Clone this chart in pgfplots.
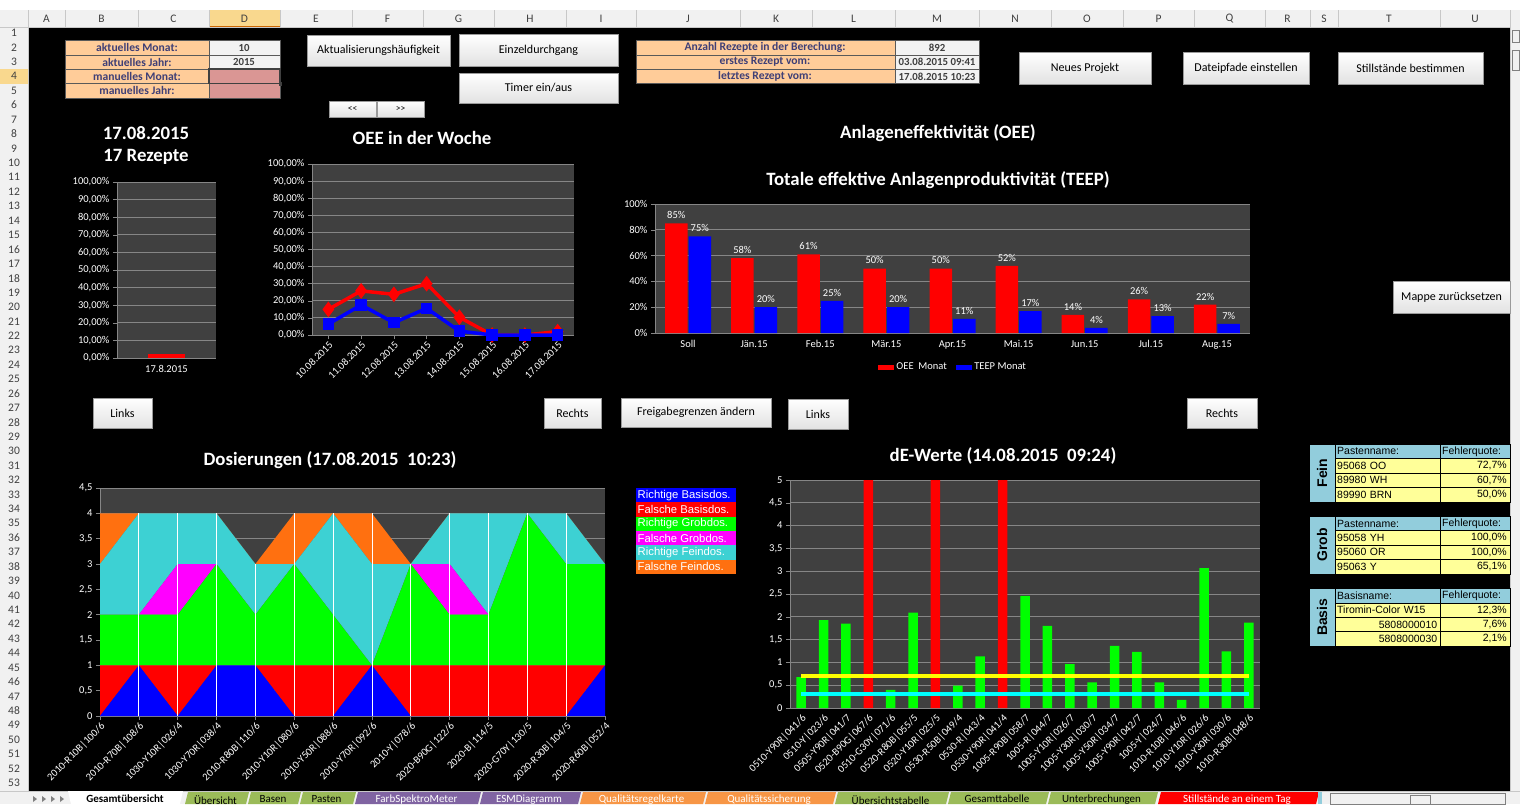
\documentclass[border=0pt]{standalone}
\usepackage{fontspec}
\setmainfont{Carlito}
\newfontfamily\arialf{Liberation Sans}
\usepackage{pgfplots}
\pgfplotsset{compat=1.18}

\definecolor{plotbg}{HTML}{404040}
\definecolor{gridc}{HTML}{868686}
\definecolor{inpfill}{HTML}{FFCC99}
\definecolor{inptext}{HTML}{3F3F76}
\definecolor{outfill}{HTML}{F2F2F2}
\definecolor{outtext}{HTML}{3F3F3F}
\definecolor{pinkc}{HTML}{DA9694}
\definecolor{btnbot}{HTML}{E2E2E2}
\definecolor{btnborder}{HTML}{9A9A9A}
\definecolor{hdrfill}{HTML}{F1F1F1}
\definecolor{hdrline}{HTML}{C8C8C8}
\definecolor{hdrtext}{HTML}{404040}
\definecolor{hdrsel}{HTML}{F9D88E}
\definecolor{xred}{HTML}{FF0000}
\definecolor{xblue}{HTML}{0000FF}
\definecolor{xgreen}{HTML}{00FF00}
\definecolor{xmag}{HTML}{FF00FF}
\definecolor{xcyan}{HTML}{3DD1D3}
\definecolor{xorange}{HTML}{FF7010}
\definecolor{xyellow}{HTML}{FFFF00}
\definecolor{xlcyan}{HTML}{00FFFF}
\definecolor{tblue}{HTML}{92CDDC}
\definecolor{tyellow}{HTML}{FFFF99}
\definecolor{tabgreen}{HTML}{9BBB59}
\definecolor{tabpurple}{HTML}{8064A2}
\definecolor{taborange}{HTML}{F79646}

\newcommand{\tf}{\fontsize{10.5}{12}\selectfont}
\newcommand{\hdrf}{\fontsize{11.5}{13}\selectfont}
\newcommand{\titf}{\bfseries\fontsize{18.8}{22}\selectfont}
\newcommand{\cellf}{\bfseries\fontsize{11.6}{13}\selectfont}
\newcommand{\valf}{\bfseries\fontsize{10.8}{12}\selectfont}
\newcommand{\tabf}{\arialf\fontsize{10.5}{12}\selectfont}
\newcommand{\btnf}{\fontsize{12}{14}\selectfont}

\newcommand{\btn}[6][]{%
  \draw[btnborder, top color=white, bottom color=btnbot] (#2,#3) rectangle (#4,#5);
  \node[font=\btnf, text=black, #1] at ({(#2+#4)/2},{(#3+#5)/2}) {#6};}

\newcommand{\rtab}[9]{%
\begin{scope}[shift={(0,#1)}]
 \fill[tblue] (1309,0) rectangle (1335,57.7);
 \fill[tblue] (1335,0) rectangle (1510,14.42);
 \fill[tyellow] (1335,14.42) rectangle (1510,57.7);
 \draw[black, line width=0.5pt] (1309,0) rectangle (1510,57.7) (1335,0) -- (1335,57.7) (1440,0) -- (1440,57.7) (1335,14.42) -- (1510,14.42) (1335,28.84) -- (1510,28.84) (1335,43.26) -- (1510,43.26);
 \node[rotate=90, font=\arialf\bfseries\fontsize{14}{16}\selectfont] at (1322,28.85) {#2};
 \node[anchor=west, font=\tabf, inner sep=1pt] at (1336,7.21) {#3};
 \node[anchor=west, font=\tabf, inner sep=1pt] at (1441,7.21) {Fehlerquote:};
 \node[anchor=west, font=\tabf, inner sep=1pt, text width=100pt, align=left] at (1336,21.63) {#4};
 \node[anchor=east, font=\tabf, inner sep=1pt] at (1508,21.63) {#5};
 \node[anchor=west, font=\tabf, inner sep=1pt, text width=100pt, align=left] at (1336,36.05) {#6};
 \node[anchor=east, font=\tabf, inner sep=1pt] at (1508,36.05) {#7};
 \node[anchor=west, font=\tabf, inner sep=1pt, text width=100pt, align=left] at (1336,50.47) {#8};
 \node[anchor=east, font=\tabf, inner sep=1pt] at (1508,50.47) {#9};
\end{scope}}

\pgfplotsset{
  xl/.style={
    scale only axis,
    axis background/.style={fill=plotbg},
    axis lines*=left,
    axis line style={-, draw=gridc, line width=0.8pt},
    ymajorgrids,
    major grid style={draw=gridc, line width=0.9pt},
    tick style={draw=gridc, line width=0.6pt},
    tick align=outside,
    major tick length=4pt,
    ticklabel style={font=\tf, text=white},
    /pgf/number format/assume math mode=true,
    /pgf/number format/use comma,
    /pgf/number format/1000 sep={},
  }
}

\begin{document}
\begin{tikzpicture}[x=1pt, y=-1pt]
\useasboundingbox (0,0) rectangle (1520,804);
% sheet frame
\fill[white] (0,0) rectangle (1520,10);
\fill[hdrfill] (0,10) rectangle (1520,27);
\fill[hdrfill] (0,27) rectangle (28,791);
\fill[black] (28,27) rectangle (1510,791);
\fill[hdrsel] (209,10) rectangle (280,27);
\draw[orange!80!black, line width=1pt] (209,26.5) -- (280,26.5);
\fill[hdrsel] (0,69.26) rectangle (28,83.68);
\draw[hdrline] (0,27) -- (1510,27) (28,10) -- (28,791);
\foreach \a/\b/\l in {28/65/A,65/138/B,138/209/C,209/280/D,280/352/E,352/423/F,423/494/G,494/566/H,566/636/I,636/740/J,740/812/K,812/895/L,895/979/M,979/1051/N,1051/1123/O,1123/1194/P,1194/1265/Q,1265/1310/R,1310/1338/S,1338/1440/T,1440/1510/U}
{ \draw[hdrline] (\b,10) -- (\b,27); \node[font=\hdrf, text=hdrtext] at ({(\a+\b)/2},18.5) {\l}; }
\foreach \r in {1,...,54} { \node[font=\hdrf, text=hdrtext] at (14,{18.58+\r*14.42}) {\r}; }
% right scrollbar
\fill[hdrfill] (1510,10) rectangle (1520,791);
\draw[hdrline] (1510,10) -- (1510,791);
\draw[gray] (1512,30) rectangle (1519,42);
\draw[gray] (1512,50) rectangle (1519,70);

% top-left cell table
\fill[inpfill] (65,40.4) rectangle (209,98.1);
\fill[outfill] (209,40.4) rectangle (280,69.26);
\fill[pinkc] (209,69.26) rectangle (280,98.1);
\draw[gray!70!black, line width=0.6pt] (65,40.4) rectangle (280,98.1) (209,40.4) -- (209,98.1)
  (65,54.84) -- (280,54.84) (65,69.26) -- (280,69.26) (65,83.68) -- (280,83.68);
\draw[black!75, line width=1.6pt] (209,69.26) rectangle (280,83.68);
\fill[black!75] (278.5,82.2) rectangle (282,85.5);
\node[font=\cellf, text=inptext] at (137,47.6) {aktuelles Monat:};
\node[font=\cellf, text=inptext] at (137,62.0) {aktuelles Jahr:};
\node[font=\cellf, text=inptext] at (137,76.5) {manuelles Monat:};
\node[font=\cellf, text=inptext] at (137,90.9) {manuelles Jahr:};
\node[font=\valf, text=outtext] at (244,47.6) {10};
\node[font=\valf, text=outtext] at (244,62.0) {2015};

% middle table
\fill[inpfill] (636,40.4) rectangle (895,83.68);
\fill[outfill] (895,40.4) rectangle (979,83.68);
\draw[gray!70!black, line width=0.6pt] (636,40.4) rectangle (979,83.68) (895,40.4) -- (895,83.68)
  (636,54.84) -- (979,54.84) (636,69.26) -- (979,69.26);
\node[font=\cellf, text=inptext] at (765,47.6) {Anzahl Rezepte in der Berechung:};
\node[font=\cellf, text=inptext] at (765,62.0) {erstes Rezept vom:};
\node[font=\cellf, text=inptext] at (765,76.5) {letztes Rezept vom:};
\node[font=\valf, text=outtext] at (937,47.6) {892};
\node[font=\valf, text=outtext] at (937,62.0) {03.08.2015 09:41};
\node[font=\valf, text=outtext] at (937,76.5) {17.08.2015 10:23};

% buttons
\btn{307}{35}{450}{66}{Aktualisierungshäufigkeit}
\btn{459}{34}{618}{66}{Einzeldurchgang}
\btn{459}{73}{618}{103}{Timer ein/aus}
\btn[font=\fontsize{9.5}{10}\selectfont]{329}{101}{376}{117}{<{}<}
\btn[font=\fontsize{9.5}{10}\selectfont]{377}{101}{424}{117}{>{}>}
\btn{1019}{52}{1151}{84}{Neues Projekt}
\btn{1183}{52}{1309}{84}{Dateipfade einstellen}
\btn{1338}{52}{1483}{84}{Stillstände bestimmen}
\btn{1393}{281}{1510}{313}{Mappe zurücksetzen}
\btn{93}{398}{152}{428}{Links}
\btn{544}{398}{601}{428}{Rechts}
\btn{621}{398}{771}{427}{Freigabegrenzen ändern}
\btn{788}{399}{848}{429}{Links}
\btn{1187}{398}{1257}{428}{Rechts}

% titles
\node[font=\titf, text=white] at (146,133) {17.08.2015};
\node[font=\titf, text=white] at (146,157) {17 Rezepte};
\node[font=\titf, text=white] at (422,138) {OEE in der Woche};
\node[font=\titf, text=white] at (938,133) {Anlageneffektivität (OEE)};
\node[font=\titf, text=white] at (938,180) {Totale effektive Anlagenproduktivität (TEEP)};
\node[font=\titf, text=white] at (330,460) {Dosierungen (17.08.2015\ \ 10:23)};
\node[font=\titf, text=white] at (1003,456) {dE-Werte (14.08.2015\ \ 09:24)};

% chart 1: single day
\begin{axis}[xl, at={(117pt,-358pt)}, anchor=south west, width=99pt, height=176pt,
  xmin=0, xmax=1, ymin=0, ymax=100, ytick={0,10,...,100},
  yticklabel={\pgfmathprintnumber[fixed,fixed zerofill,precision=2]{\tick}\%},
  xtick={0.5}, xticklabels={17.8.2015}, xtick style={draw=none}]
\addplot[ybar, bar width=37pt, bar shift=0pt, fill=xred, draw=none] coordinates {(0.5,2)};
\end{axis}

% chart 2: OEE week
\begin{axis}[xl, at={(312pt,-335pt)}, anchor=south west, width=262pt, height=171pt,
  xmin=0.5, xmax=8.5, ymin=0, ymax=100, ytick={0,10,...,100}, clip=false,
  yticklabel={\pgfmathprintnumber[fixed,fixed zerofill,precision=2]{\tick}\%},
  xtick={1,...,8},
  xticklabels={10.08.2015,11.08.2015,12.08.2015,13.08.2015,14.08.2015,15.08.2015,16.08.2015,17.08.2015},
  xticklabel style={rotate=45, anchor=north east, inner sep=1pt}]
\addplot[xred, line width=3.5pt, mark=diamond*, mark size=5pt, mark options={solid}] coordinates
  {(1,15) (2,25.8) (3,23.8) (4,30) (5,10.4) (6,0) (7,0) (8,2)};
\addplot[xblue, line width=3.5pt, mark=square*, mark size=4pt, mark options={solid}] coordinates
  {(1,6.4) (2,17.6) (3,7.2) (4,15.6) (5,2.3) (6,0) (7,0) (8,0)};
\end{axis}

% chart 3: OEE / TEEP per month
\begin{axis}[xl, at={(655pt,-333pt)}, anchor=south west, width=595pt, height=129pt,
  ybar=1pt, bar width=22.5pt,
  xmin=-0.5, xmax=8.5, ymin=0, ymax=100, ytick={0,20,...,100},
  yticklabel={\pgfmathprintnumber{\tick}\%},
  xtick={0,...,8}, xticklabels={Soll,Jän.15,Feb.15,Mär.15,Apr.15,Mai.15,Jun.15,Jul.15,Aug.15},
  xtick style={draw=none},
  nodes near coords={\pgfmathprintnumber{\pgfplotspointmeta}\%},
  every node near coord/.append style={font=\tf, text=white, yshift=1pt},
  legend style={draw=none, fill=none, text=white, font=\tf, at={(0.5,-0.2)}, anchor=north,
    /tikz/every even column/.append style={column sep=6pt}},
  legend columns=2]
\addplot[fill=xred, draw=none, area legend] coordinates
  {(0,85) (1,58) (2,61) (3,50) (4,50) (5,52) (6,14) (7,26) (8,22)};
\addplot[fill=xblue, draw=none, area legend] coordinates
  {(0,75) (1,20) (2,25) (3,20) (4,11) (5,17) (6,4) (7,13) (8,7)};
\legend{OEE\ \ Monat, TEEP Monat}
\end{axis}

% chart 4: Dosierungen (stacked areas)
\begin{axis}[xl, at={(100pt,-716pt)}, anchor=south west, width=505pt, height=228pt,
  stack plots=y, xmin=0, xmax=13, ymin=0, ymax=4.5, ytick={0,0.5,...,4.5},
  xtick={0,...,13},
  xticklabels={2010-R10B|100/6,2010-R70B|108/6,1030-Y10R|026/4,1030-Y70R|038/4,2010-R80B|110/6,2010-Y10R|080/6,2010-Y50R|088/6,2010-Y70R|092/6,2010-Y|078/6,2020-B90G|122/6,2020-B|114/5,2020-G70Y|130/5,2020-R30B|104/5,2020-R60B|052/4},
  xticklabel style={rotate=45, anchor=north east, inner sep=1pt}]
\addplot[fill=xblue, draw=none] coordinates
  {(0,0) (1,1) (2,0) (3,1) (4,1) (5,0) (6,0) (7,1) (8,0) (9,0) (10,0) (11,0) (12,0) (13,1)} \closedcycle;
\addplot[fill=xred, draw=none] coordinates
  {(0,1) (1,0) (2,1) (3,0) (4,0) (5,1) (6,1) (7,0) (8,1) (9,1) (10,1) (11,1) (12,1) (13,0)} \closedcycle;
\addplot[fill=xgreen, draw=none] coordinates
  {(0,1) (1,1) (2,1) (3,2) (4,1) (5,2) (6,1) (7,0) (8,2) (9,1) (10,1) (11,3) (12,2) (13,2)} \closedcycle;
\addplot[fill=xmag, draw=none] coordinates
  {(0,0) (1,0) (2,1) (3,0) (4,0) (5,0) (6,0) (7,0) (8,0) (9,1) (10,0) (11,0) (12,0) (13,0)} \closedcycle;
\addplot[fill=xcyan, draw=none] coordinates
  {(0,1) (1,2) (2,1) (3,1) (4,1) (5,0) (6,2) (7,2) (8,0) (9,1) (10,2) (11,0) (12,1) (13,0)} \closedcycle;
\addplot[fill=xorange, draw=none] coordinates
  {(0,1) (1,0) (2,0) (3,0) (4,0) (5,1) (6,0) (7,1) (8,0) (9,0) (10,0) (11,0) (12,0) (13,0)} \closedcycle;
\end{axis}
\begin{axis}[at={(100pt,-716pt)}, anchor=south west, width=505pt, height=228pt, scale only axis,
  hide axis, xmin=0, xmax=13, ymin=0, ymax=4.5]
\addplot[ycomb, white, line width=0.8pt, mark=none] coordinates
  {(1,4) (2,4) (3,4) (4,3) (5,4) (6,4) (7,4) (8,3) (9,4) (10,4) (11,4) (12,4)};
\end{axis}
% legend chart 4
\foreach \c/\t [count=\i from 0] in {xblue/Richtige Basisdos., xred/Falsche Basisdos., xgreen/Richtige Grobdos., xmag/Falsche Grobdos., xcyan/Richtige Feindos., xorange/Falsche Feindos.}
{ \fill[\c] (636,{488+\i*14.33}) rectangle (736,{488+(\i+1)*14.33});
  \node[anchor=west, inner sep=1pt, text=white, font=\arialf\fontsize{11.3}{12}\selectfont] at (636.5,{488+(\i+0.5)*14.33}) {\t}; }

% chart 5: dE-Werte
\begin{axis}[xl, at={(790pt,-708pt)}, anchor=south west, width=470pt, height=228pt,
  xmin=-0.5, xmax=20.5, ymin=0, ymax=5, ytick={0,0.5,...,5},
  xtick={0,...,20},
  xticklabels={0510-Y90R|041/6,0510-Y|023/6,0505-Y90R|041/7,0520-B90G|067/6,0510-G30Y|071/6,0520-R80B|055/5,0520-Y10R|025/5,0530-R50B|049/4,0530-R|043/4,0530-Y90R|041/4,1005-R90B|058/7,1005-R|044/7,1005-Y10R|026/7,1005-Y30R|030/7,1005-Y50R|034/7,1005-Y90R|042/7,1005-Y|024/7,1010-R10B|046/6,1010-Y10R|026/6,1010-Y30R|030/6,1010-R30B|048/6},
  xtick style={draw=none},
  xticklabel style={rotate=45, anchor=north east, inner sep=1pt}]
\addplot[ybar, bar width=9.5pt, bar shift=0pt, fill=xgreen, draw=none] coordinates
  {(0,0.68) (1,1.93) (2,1.85) (4,0.40) (5,2.09) (7,0.49) (8,1.13) (10,2.46) (11,1.80) (12,0.96) (13,0.56) (14,1.36) (15,1.23) (16,0.56) (17,0.18) (18,3.07) (19,1.24) (20,1.87)};
\addplot[ybar, bar width=9.5pt, bar shift=0pt, fill=xred, draw=none] coordinates
  {(3,5) (6,5) (9,5)};
\addplot[xyellow, line width=4pt] coordinates {(0,0.7) (20,0.7)};
\addplot[xlcyan, line width=4pt] coordinates {(0,0.3) (20,0.3)};
\end{axis}

% right tables
\rtab{444.2}{Fein}{Pastenname:}{95068 OO}{72,7\%}{89980 WH}{60,7\%}{89990 BRN}{50,0\%}
\rtab{516.3}{Grob}{Pastenname:}{95058 YH}{100,0\%}{95060 OR}{100,0\%}{95063 Y}{65,1\%}
\rtab{588.4}{Basis}{Basisname:}{Tiromin-Color W15}{12,3\%}{\hfill 5808000010}{7,6\%}{\hfill 5808000030}{2,1\%}

% sheet tabs
\fill[hdrfill] (0,791) rectangle (1520,804);
\draw[hdrline] (0,791) -- (1520,791);
\foreach \x in {33,42,51,60} { \fill[gray] (\x,796) -- (\x+4,799) -- (\x,802) -- cycle; }
\fill[white] (68,791) -- (183,791) -- (180,804) -- (71,804) -- cycle;
\node[font=\bfseries\fontsize{11}{12}\selectfont, anchor=north, inner sep=0pt] at (125,795) {Gesamtübersicht};
\foreach \a/\b/\c/\tc/\t in {185/246/tabgreen/black/Übersicht, 248/298/tabgreen/black/Basen, 300/353/tabgreen/black/Pasten, 355/478/tabpurple/white/FarbSpektroMeter, 480/578/tabpurple/white/ESMDiagramm, 580/703/taborange/white/Qualitätsregelkarte, 705/833/taborange/white/Qualitätssicherung, 835/946/tabgreen/black/Übersichtstabelle, 948/1046/tabgreen/black/Gesamttabelle, 1048/1155/tabgreen/black/Unterbrechungen, 1158/1316/xred/white/Stillstände an einem Tag}
{ \fill[\c] (\a+3,792) -- (\b+3,792) -- (\b,804) -- (\a,804) -- cycle;
  \node[font=\fontsize{11}{12}\selectfont, text=\tc, anchor=north, inner sep=0pt] at ({(\a+\b)/2},795) {\t}; }
\fill[tblue] (1318,792) rectangle (1322,804);
\draw[gray] (1330,793) rectangle (1505,804);
\draw[gray] (1410,795) rectangle (1430,804);
\end{tikzpicture}
\end{document}
